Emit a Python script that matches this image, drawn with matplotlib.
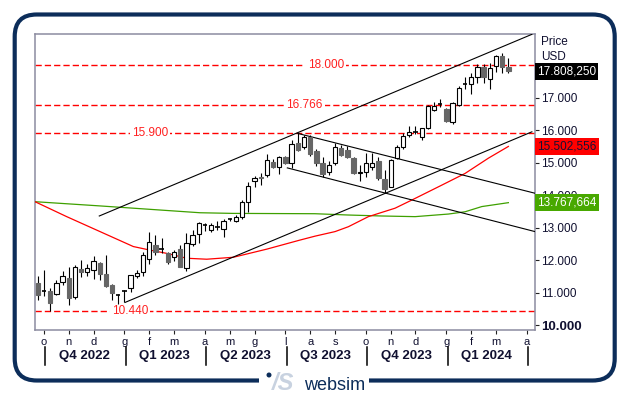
import matplotlib
matplotlib.use('Agg')
import matplotlib.pyplot as plt
from matplotlib.patches import Rectangle, FancyBboxPatch, Circle
from matplotlib.transforms import IdentityTransform, blended_transform_factory

plt.rcParams['font.family'] = ['Liberation Sans', 'DejaVu Sans']

# weekly candles, index 0 = first week of October 2022
weeks = list(range(-1, 76))
opens = [11.29, 11.05, 11.05, 10.95, 11.32, 11.44, 10.88, 11.73, 11.63, 11.70,
         11.92, 11.58, 11.24, 10.95, 11.04, 11.13, 11.52, 11.65, 12.03, 12.47,
         12.34, 12.23, 12.11, 12.34, 11.75, 12.49, 12.80, 13.09, 12.93, 13.04,
         12.96, 13.25, 13.22, 13.34, 13.80, 14.45, 14.57, 14.62, 15.03, 14.88,
         15.17, 15.00, 15.62, 15.47, 15.80, 15.37, 14.98, 14.72, 14.98, 15.44,
         15.39, 15.13, 14.67, 14.72, 14.86, 15.06, 14.49, 14.26, 15.13, 15.47,
         15.85, 15.95, 15.80, 16.06, 16.62, 16.80, 16.64, 16.26, 16.78, 17.42,
         17.41, 17.63, 17.94, 17.56, 17.97, 18.28, 17.95]
highs = [11.51, 11.69, 11.15, 11.39, 11.68, 11.80, 11.85, 12.00, 11.87, 12.13,
         11.95, 12.16, 11.26, 10.96, 11.07, 11.54, 11.70, 12.26, 12.86, 12.78,
         12.69, 12.25, 12.30, 12.47, 12.83, 12.93, 13.17, 13.15, 13.15, 13.20,
         13.28, 13.30, 13.38, 13.85, 14.42, 14.59, 14.67, 15.27, 15.10, 15.20,
         15.22, 15.70, 15.90, 15.85, 15.85, 15.42, 15.19, 15.05, 15.60, 15.55,
         15.50, 15.19, 14.93, 15.31, 15.31, 15.19, 14.78, 15.10, 15.53, 15.92,
         16.13, 16.13, 16.07, 16.78, 16.88, 16.95, 16.67, 16.88, 17.35, 17.65,
         17.75, 18.04, 18.04, 18.07, 18.31, 18.38, 18.21]
lows = [10.78, 10.90, 10.44, 10.93, 11.24, 10.62, 10.80, 11.49, 11.51, 11.42,
        11.39, 11.17, 10.78, 10.65, 10.72, 11.03, 11.45, 11.52, 11.88, 12.16,
        12.23, 11.88, 11.98, 11.78, 11.68, 12.45, 12.52, 12.90, 12.88, 12.93,
        12.70, 13.20, 13.18, 13.28, 13.49, 14.26, 14.31, 14.57, 14.85, 14.65,
        14.95, 14.83, 15.35, 15.42, 15.22, 14.90, 14.57, 14.62, 14.93, 15.20,
        15.15, 14.66, 14.45, 14.55, 14.78, 14.48, 14.08, 14.24, 15.10, 15.42,
        15.80, 15.88, 15.70, 16.04, 16.58, 16.72, 16.24, 16.20, 16.74, 17.26,
        17.11, 17.44, 17.46, 17.26, 17.80, 17.77, 17.75]
closes = [10.93, 11.04, 10.67, 11.29, 11.52, 10.85, 11.80, 11.65, 11.75, 11.98,
          11.58, 11.22, 10.98, 10.92, 11.06, 11.54, 11.62, 12.16, 12.55, 12.26,
          12.33, 11.95, 12.26, 11.80, 12.52, 12.78, 13.15, 13.07, 13.08, 13.02,
          13.22, 13.27, 13.32, 13.80, 14.28, 14.52, 14.52, 15.08, 14.88, 15.17,
          15.00, 15.58, 15.39, 15.78, 15.26, 15.00, 14.65, 14.93, 15.47, 15.24,
          15.19, 14.67, 14.72, 14.98, 15.00, 14.52, 14.18, 15.08, 15.49, 15.82,
          15.95, 15.96, 16.06, 16.74, 16.74, 16.82, 16.28, 16.83, 17.29, 17.40,
          17.63, 17.94, 17.65, 17.90, 18.28, 17.95, 17.81]

# moving averages
ma_red_x = [-1.45, 3.67, 9.05, 14.43, 17.12, 19.82, 23.05, 26.28, 30.58, 35.98,
            41.36, 43.78, 47.01, 49.16, 52.39, 56.70, 59.40, 64.25, 68.01, 71.78, 75.0]
ma_red_y = [13.80, 13.34, 12.88, 12.42, 12.31, 12.21, 12.06, 12.03, 12.09, 12.34,
            12.62, 12.74, 12.88, 13.03, 13.34, 13.60, 13.85, 14.31, 14.67, 15.14, 15.50]
ma_green_x = [-1.45, 9.05, 14.43, 25.2, 30.58, 43.78, 49.16, 54.56, 59.94, 65.32,
              68.01, 70.71, 75.0]
ma_green_y = [13.80, 13.67, 13.60, 13.46, 13.44, 13.43, 13.39, 13.36, 13.34, 13.42,
              13.49, 13.65, 13.77]

# trend lines (start/end points)
chan_up_hi = ([8.93, 78.8], [13.36, 18.95])
chan_up_lo = ([13.09, 78.8], [10.70, 15.95])
chan_dn_hi = ([41.0, 79.3], [15.90, 14.06])
chan_dn_lo = ([39.3, 79.3], [14.84, 12.88])

levels = [18.000, 16.766, 15.900, 10.440]
level_labels = ['18.000', '16.766', '15.900', '10.440']
level_label_x = [45.5, 42.1, 17.1, 13.9]

month_idx = [0, 4, 8, 13, 17, 21, 26, 30, 34, 39, 43, 47, 52, 56, 60, 65, 69, 73, 78]
month_lbl = ['o', 'n', 'd', 'g', 'f', 'm', 'a', 'm', 'g', 'l', 'a', 's',
             'o', 'n', 'd', 'g', 'f', 'm', 'a']
quarter_bounds = [0, 13, 26, 39, 52, 65, 78]
quarter_lbl = ['Q4 2022', 'Q1 2023', 'Q2 2023', 'Q3 2023', 'Q4 2023', 'Q1 2024']

y_ticks = [10, 11, 12, 13, 14, 15, 16, 17]

last_boxes = [(17.80825, '17.808,250', '#000000', 'white'),
              (15.502556, '15.502,556', '#ff0000', '#1a1030'),
              (13.767664, '13.767,664', '#48a800', 'white')]

W, H = 630, 397
NAVY = '#0c2d5a'

fig = plt.figure(figsize=(W / 100, H / 100), dpi=100)
ax = fig.add_axes([35 / W, (H - 330) / H, 500 / W, 296 / H])
ax.set_xlim(-1.45, 79.3)
ax.set_ylim(9.852, 18.96)

# levels
for lv, lb, lx in zip(levels, level_labels, level_label_x):
    ax.axhline(lv, color='#ff0000', lw=1.0, dashes=(4.5, 2.2), zorder=1)
    ax.text(lx, lv, lb, color='#ff2020', fontsize=8.5, ha='center', va='center',
            bbox=dict(fc='white', ec='none', pad=1.5), zorder=2)

# moving averages
ax.plot(ma_green_x, ma_green_y, color='#3ea000', lw=0.9, zorder=3)
ax.plot(ma_red_x, ma_red_y, color='#ff0000', lw=0.9, zorder=3)

# channels
for xs, ys in [chan_up_hi, chan_up_lo, chan_dn_hi, chan_dn_lo]:
    ax.plot(xs, ys, color='black', lw=0.8, zorder=3)

# candles
bw = 0.7
for w, o, h, l, c in zip(weeks, opens, highs, lows, closes):
    ax.vlines(w, l, h, color='black', lw=0.8, zorder=4)
    lo, hi = min(o, c), max(o, c)
    if hi - lo < 0.03:
        ax.hlines((o + c) / 2, w - bw / 2, w + bw / 2, color='black', lw=1.2, zorder=5)
    elif c >= o:
        ax.add_patch(Rectangle((w - bw / 2, lo), bw, hi - lo, fc='white', ec='black',
                               lw=0.8, zorder=5))
    else:
        ax.add_patch(Rectangle((w - bw / 2, lo), bw, hi - lo, fc='#666666', ec='#666666',
                               lw=0.8, zorder=5))

# axes styling
for s in ax.spines.values():
    s.set_color('#8c8ca0')
    s.set_linewidth(1.1)
ax.yaxis.tick_right()
ax.set_yticks(y_ticks)
ax.set_yticklabels([f'{v}.000' for v in y_ticks])
ax.tick_params(axis='y', length=3, width=0.8, color='#222222', pad=1.5,
               labelsize=8.5, labelcolor='#101030')
ylabels = ax.get_yticklabels()
ylabels[0].set_fontweight('bold')
ylabels[0].set_fontsize(9.5)
ax.set_xticks(month_idx)
ax.set_xticklabels(month_lbl)
ax.tick_params(axis='x', length=3, width=0.8, color='#222222', pad=2,
               labelsize=8, labelcolor='#101030')

# quarter labels
tr = blended_transform_factory(ax.transData, fig.transFigure)
for i, q in enumerate(quarter_lbl):
    mid = (quarter_bounds[i] + quarter_bounds[i + 1]) / 2
    fig.text(mid, 1 - 356 / H, q, transform=tr, ha='center', va='center',
             fontsize=9.5, fontweight='bold', color='#101030')
for b in quarter_bounds:
    fig.add_artist(plt.Line2D([b + 0.2, b + 0.2], [1 - 347 / H, 1 - 365 / H],
                              transform=tr, color='black', lw=1.1))

# right side header and last-value boxes
fig.text(541 / W, 1 - 42 / H, 'Price', fontsize=8.5, va='center', color='#101030')
fig.text(541 / W, 1 - 57 / H, 'USD', fontsize=8.5, va='center', color='#101030')
ytr = blended_transform_factory(fig.transFigure, ax.transData)
for val, txt, fc, tc in last_boxes:
    fig.text(537 / W, val, txt, transform=ytr, fontsize=8.5, va='center', ha='left',
             color=tc, bbox=dict(boxstyle='square,pad=0.2', fc=fc, ec='none'),
             zorder=10)

# outer frame + logo
frame = FancyBboxPatch((14.7, 16.5), 600, 366, boxstyle='round,pad=0,rounding_size=22',
                       transform=IdentityTransform(), fc='none', ec=NAVY, lw=3.0)
fig.add_artist(frame)
fig.add_artist(Rectangle((259, 8), 110, 16, transform=IdentityTransform(),
                         fc='white', ec='none'))
fig.add_artist(Circle((269, 22), 2.5, transform=IdentityTransform(), fc=NAVY, ec='none'))
fig.text(272 / W, 13 / H, '/S', fontsize=17, fontweight='bold', style='italic',
         color='#c8d2e0', va='center', ha='left')
fig.text(304 / W, 12 / H, 'websim', fontsize=13, color=NAVY, va='center', ha='left')

fig.savefig('out.png', dpi=100)
